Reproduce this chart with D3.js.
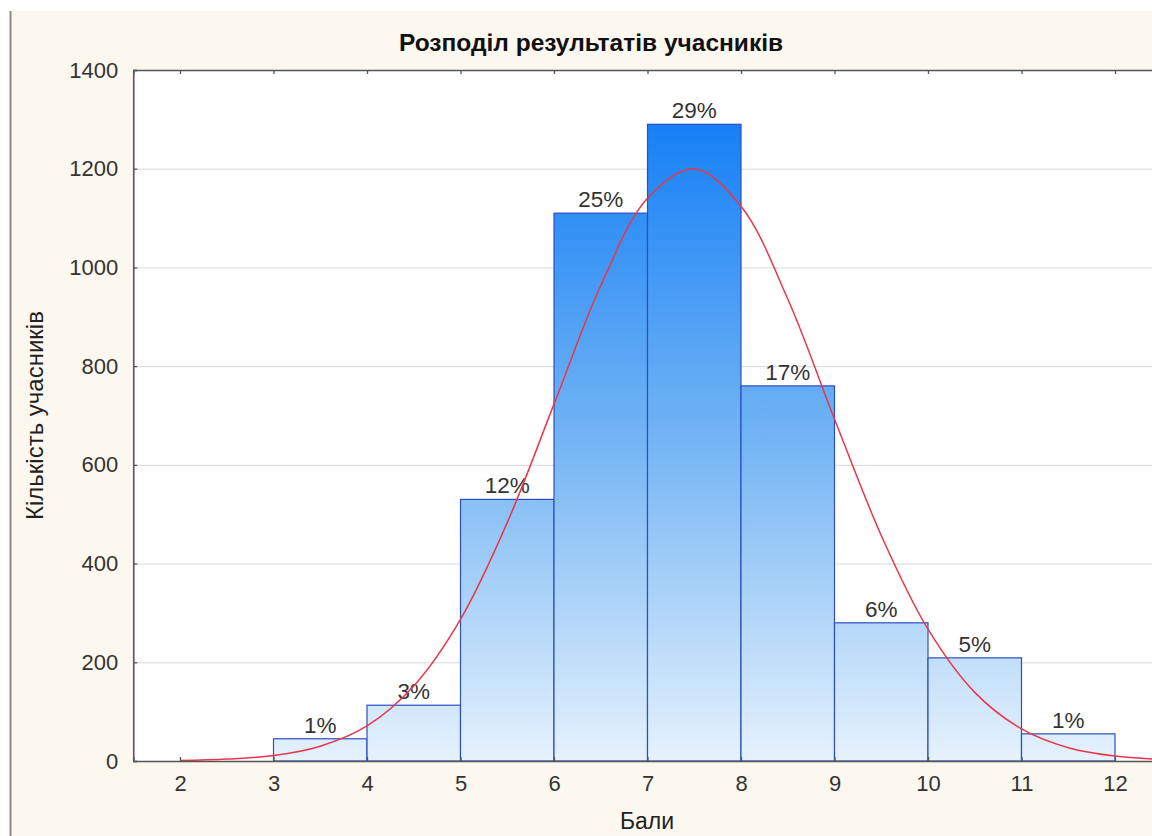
<!DOCTYPE html>
<html><head><meta charset="utf-8">
<script src="https://cdn.jsdelivr.net/npm/d3@7"></script>
<style>body{margin:0;background:#fff}svg{display:block;font-family:"Liberation Sans",Arial,sans-serif}</style>
</head><body><svg id="c" width="1152" height="836"></svg>
<script>
const binStarts = [3,4,5,6,7,8,9,10,11];
const counts = [45,113,530,1110,1290,760,280,209,55];
const pctLabels = ["1%","3%","12%","25%","29%","17%","6%","5%","1%"];
const xTicks = [2,3,4,5,6,7,8,9,10,11,12];
const yTicks = [0,200,400,600,800,1000,1200,1400];
const curveX = [2,2.5,3,3.5,4,4.5,5,5.5,6,6.5,7,7.5,8,8.5,9,9.5,10,10.5,11,11.5,12,12.5];
const curveY = [1,4,11,30,71,152,287,483,723,963,1140,1200,1124,936,693,457,267,139,65,27,10,3];

const svg = d3.select("#c");
const W=1152,H=836;
svg.append("rect").attr("x",10).attr("y",11).attr("width",W-10).attr("height",H-11).attr("fill","#fdf8ef");
svg.append("line").attr("x1",10.5).attr("x2",10.5).attr("y1",11).attr("y2",H).attr("stroke","#8a8a8a").attr("stroke-width",2);

const x = d3.scaleLinear().domain([1.5,12.5]).range([133.25,1161.75]);
const y = d3.scaleLinear().domain([0,1400]).range([761,70]);

const plotL=x(1.5), plotR=x(12.5), plotT=y(1400), plotB=y(0);
svg.append("rect").attr("x",plotL).attr("y",plotT).attr("width",plotR-plotL).attr("height",plotB-plotT).attr("fill","#fff");

const defs = svg.append("defs");
const g = defs.append("linearGradient").attr("id","bg").attr("gradientUnits","userSpaceOnUse")
  .attr("x1",0).attr("x2",0).attr("y1",y(1290)).attr("y2",y(0));
g.append("stop").attr("offset","0%").attr("stop-color","#1780f6");
g.append("stop").attr("offset","50%").attr("stop-color","#74b5f4");
g.append("stop").attr("offset","100%").attr("stop-color","#e6f2fd");

// grid
svg.append("g").selectAll("line").data(yTicks.filter(d=>d>0&&d<1400)).join("line")
  .attr("x1",plotL).attr("x2",plotR).attr("y1",d=>y(d)+0.5).attr("y2",d=>y(d)+0.5)
  .attr("stroke","#d9d9d9").attr("stroke-width",1);

// bars
svg.append("g").selectAll("rect").data(binStarts).join("rect")
  .attr("x",(d)=>x(d)).attr("width",d=>x(d+1)-x(d))
  .attr("y",(d,i)=>y(counts[i])).attr("height",(d,i)=>y(0)-y(counts[i]))
  .attr("fill","url(#bg)").attr("stroke","#2b4fbf").attr("stroke-width",1.2);

// labels
svg.append("g").selectAll("text").data(binStarts).join("text")
  .attr("x",d=>x(d+0.5)).attr("y",(d,i)=>y(counts[i])-6)
  .attr("text-anchor","middle").attr("font-size",22.5).attr("fill","#333")
  .text((d,i)=>pctLabels[i]);

// curve
const line = d3.line().x((d,i)=>x(curveX[i])).y(d=>y(d)).curve(d3.curveCatmullRom);
svg.append("path").datum(curveY).attr("d",line).attr("fill","none").attr("stroke","#e8364a").attr("stroke-width",1.5);

// axes
const axB = d3.axisBottom(x).tickValues(xTicks).tickSize(-4).tickPadding(14).tickFormat(d3.format("d"));
const axT = d3.axisTop(x).tickValues(xTicks).tickSize(-4).tickFormat("");
const axL = d3.axisLeft(y).tickValues(yTicks).tickSize(-4).tickPadding(15).tickFormat(d3.format("d"));
function style(sel){sel.select(".domain").attr("stroke","#555").attr("stroke-width",1.6);
  sel.selectAll(".tick line").attr("stroke","#555").attr("stroke-width",1.3);
  sel.selectAll("text").attr("fill","#333").attr("font-size",22).attr("font-family","Liberation Sans, Arial, sans-serif");}
svg.append("g").attr("transform",`translate(0,${plotB})`).call(axB).call(style);
svg.append("g").attr("transform",`translate(0,${plotT})`).call(axT).call(style);
svg.append("g").attr("transform",`translate(${plotL},0)`).call(axL).call(style);

// titles
svg.append("text").attr("x",591).attr("y",51).attr("text-anchor","middle").attr("font-size",24.5).attr("font-weight","bold").attr("fill","#111").text("Розподіл результатів учасників");
svg.append("text").attr("transform","translate(43,415.5) rotate(-90)").attr("text-anchor","middle").attr("font-size",24).attr("fill","#222").text("Кількість учасників");
svg.append("text").attr("x",647).attr("y",829).attr("text-anchor","middle").attr("font-size",23).attr("fill","#222").text("Бали");
</script></body></html>
